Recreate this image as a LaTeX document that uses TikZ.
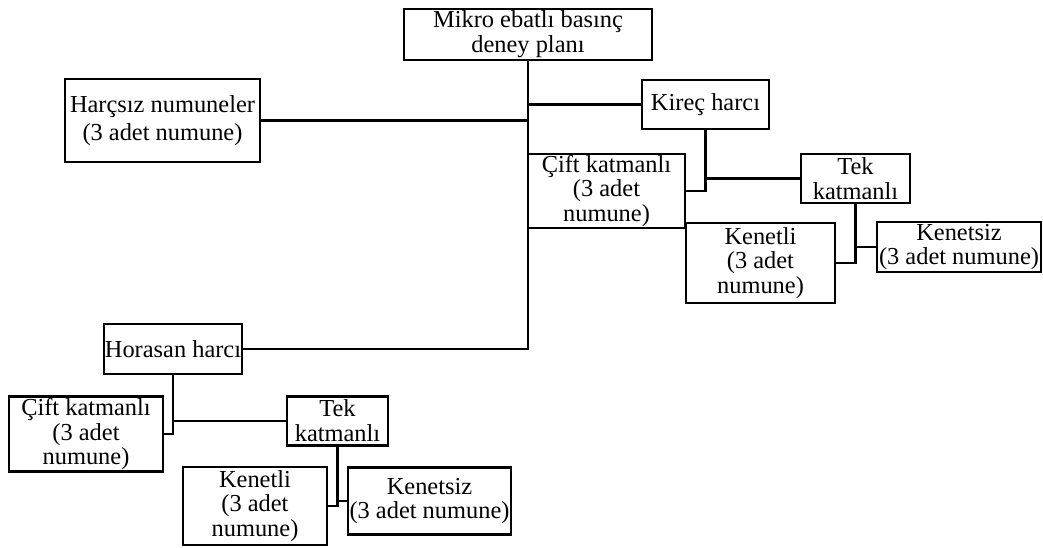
\documentclass[tikz,border=0pt]{standalone}
\usepackage{fontspec}
\setmainfont{Liberation Serif}
\begin{document}
\begin{tikzpicture}[x=0.75pt,y=-0.75pt,
  box/.style={draw,line width=1.6pt,inner sep=0pt,align=center,
    font=\fontsize{18.3}{18.6}\selectfont},
  conn/.style={line width=1.6pt}]
\useasboundingbox (0,0) rectangle (1043,547);
\node[box,minimum width=248*0.75pt,minimum height=51*0.75pt] (top) at (528,34.5) {Mikro ebatlı basınç\\deney planı};
\node[box,minimum width=195*0.75pt,minimum height=83*0.75pt] (harcsiz) at (162.5,120.5) {Harçsız numuneler\\[2pt](3 adet numune)};
\node[box,minimum width=127*0.75pt,minimum height=49*0.75pt] (kirec) at (705.5,104.5) {Kireç harcı};
\node[box,minimum width=157*0.75pt,minimum height=74*0.75pt] (cift1) at (606.5,191) {Çift katmanlı\\(3 adet\\numune)};
\node[box,minimum width=109*0.75pt,minimum height=49*0.75pt] (tek1) at (855.5,178.5) {Tek\\katmanlı};
\node[box,minimum width=149*0.75pt,minimum height=80*0.75pt] (kenetli1) at (760.5,263) {Kenetli\\(3 adet\\numune)};
\node[box,minimum width=164*0.75pt,minimum height=50*0.75pt] (kenetsiz1) at (959,247) {Kenetsiz\\(3 adet numune)};
\node[box,minimum width=138*0.75pt,minimum height=50*0.75pt] (horasan) at (173,349) {Horasan harcı};
\node[box,minimum width=154*0.75pt,minimum height=75*0.75pt] (cift2) at (86,434) {Çift katmanlı\\(3 adet\\numune)};
\node[box,minimum width=101*0.75pt,minimum height=49*0.75pt] (tek2) at (337.5,421) {Tek\\katmanlı};
\node[box,minimum width=144*0.75pt,minimum height=78*0.75pt] (kenetli2) at (255,506) {Kenetli\\(3 adet\\numune)};
\node[box,minimum width=163*0.75pt,minimum height=67*0.75pt] (kenetsiz2) at (429.5,501) {Kenetsiz\\(3 adet numune)};
% connectors
\draw[conn] (top.south) |- (horasan.east);
\draw[conn] (kirec.west) -- (kirec.west -| top.south);
\draw[conn] (harcsiz.east) -- (harcsiz.east -| top.south);
\draw[conn] (kirec.south) |- (cift1.east);
\draw[conn] (tek1.west) -- (tek1.west -| kirec.south);
\draw[conn] (tek1.south) |- (kenetli1.east);
\draw[conn] (kenetsiz1.west) -- (kenetsiz1.west -| tek1.south);
\draw[conn] (horasan.south) |- (cift2.east);
\draw[conn] (tek2.west) -- (tek2.west -| horasan.south);
\draw[conn] (tek2.south) |- (kenetli2.east);
\draw[conn] (kenetsiz2.west) -- (kenetsiz2.west -| tek2.south);
\end{tikzpicture}
\end{document}
